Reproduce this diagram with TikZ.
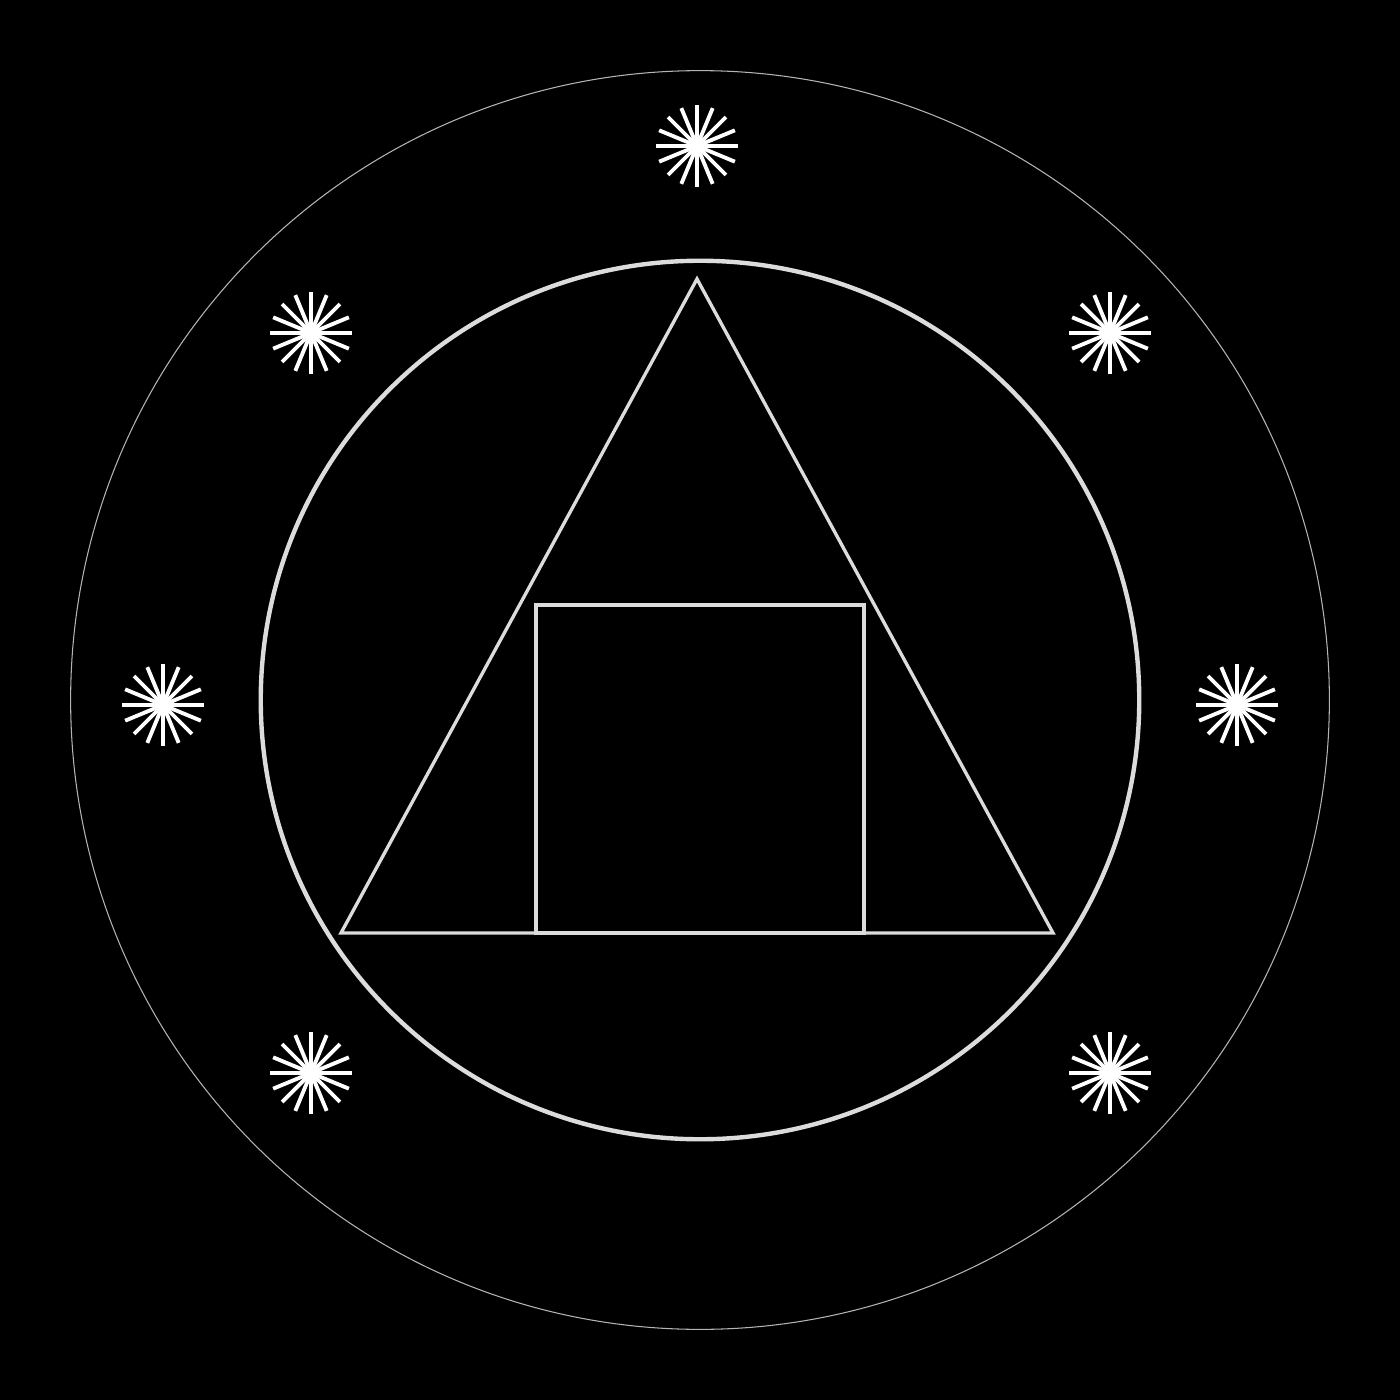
\documentclass[tikz,border=0pt]{standalone}
\usetikzlibrary{positioning}

\definecolor{chalk}{HTML}{DCDCDC}
\definecolor{faint}{HTML}{B4B4B4}

\tikzset{
  ring/.style={draw=faint, line width=0.3pt},
  halo/.style={draw=chalk, line width=1.25pt},
  figure/.style={draw=chalk, line width=0.95pt, line join=miter},
  spark/.pic={
    \foreach \a in {0,22.5,...,337.5}
      \draw[white, line width=1.1pt] (0,0) -- (\a:41);
    \fill[white] (0,0) circle (0.05cm);
  }
}

\begin{document}
\begin{tikzpicture}[x=0.01cm, y=-0.01cm]

    \fill[black] (0,0) rectangle (1400,1400);
    \useasboundingbox (0,0) rectangle (1400,1400);

    \coordinate (centre) at (700,700);

    % the two rings
    \draw[ring] (centre) circle (6.29cm);
    \draw[halo] (centre) circle (4.39cm);

    % triangle and square
    \coordinate (apex) at (697,279);
    \coordinate (baseL) at (341,933);
    \coordinate (baseR) at (1053,933);
    \draw[figure] (apex) -- (baseR) -- (baseL) -- cycle;

    \coordinate (sqA) at (536,605);
    \coordinate (sqB) at (864,933);
    \draw[figure] (sqA) rectangle (sqB);

    % sparks around the ring
    \foreach \x/\y in {697/146, 311/333, 1110/333, 163/705, 1237/705, 311/1073, 1110/1073}
        \pic at (\x,\y) {spark};

\end{tikzpicture}
\end{document}
